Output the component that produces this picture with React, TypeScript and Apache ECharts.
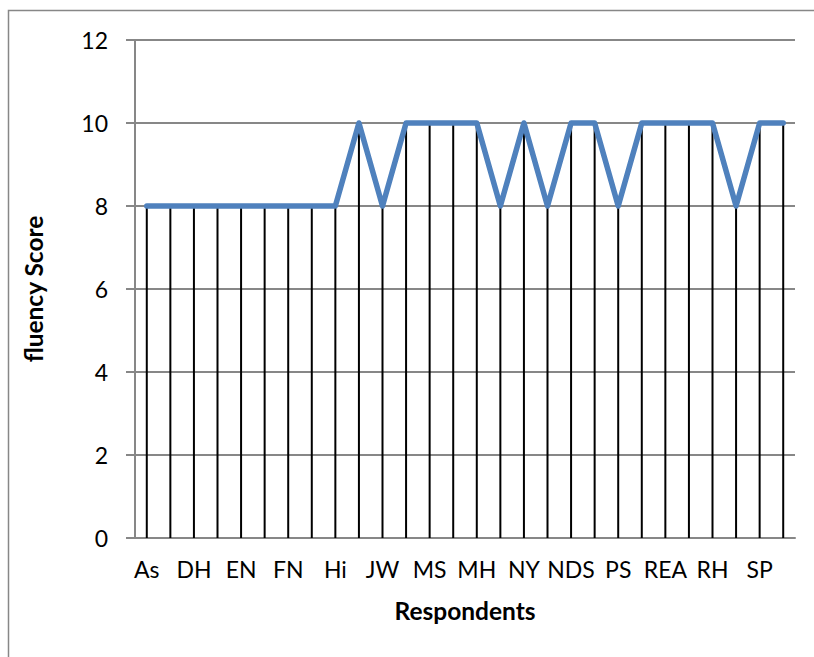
import React, { useEffect, useRef } from 'react';
import * as echarts from 'echarts';

// Respondent initials; the unlabeled slots sit between the printed ones.
const respondents = [
  'As', '', 'DH', '', 'EN', '', 'FN', '', 'Hi', '', 'JW', '', 'MS', '', 'MH', '',
  'NY', '', 'NDS', '', 'PS', '', 'REA', '', 'RH', '', 'SP', '',
];

// Fluency score for each respondent.
const fluencyScores = [
  8, 8, 8, 8, 8, 8, 8, 8, 8, 10, 8, 10, 10, 10, 10, 8,
  10, 8, 10, 10, 8, 10, 10, 10, 10, 8, 10, 10,
];

const yMin = 0;
const yMax = 12;
const yStep = 2;

const FONT = 'Lato, "Open Sans", sans-serif';
const GRAY = '#878787';

export default function App() {
  const ref = useRef<HTMLDivElement>(null);

  useEffect(() => {
    document.body.style.margin = '0';
    if (!ref.current) return;
    const chart = echarts.init(ref.current, undefined, { renderer: 'svg' });
    chart.setOption({
      animation: false,
      backgroundColor: '#ffffff',
      textStyle: { fontFamily: FONT },
      grid: { left: 135, right: 19, top: 40, bottom: 119, containLabel: false },
      graphic: [
        {
          type: 'rect',
          shape: { x: 8.5, y: 10.5, width: 900, height: 900 },
          style: { fill: 'none', stroke: GRAY, lineWidth: 1.5 },
          silent: true,
          z: -10,
        },
      ],
      xAxis: {
        type: 'category',
        data: respondents,
        boundaryGap: true,
        axisLine: { show: true, lineStyle: { color: GRAY, width: 2 } },
        axisTick: { show: false },
        splitLine: { show: false },
        axisLabel: {
          interval: 0,
          color: '#000',
          fontSize: 23,
          fontFamily: FONT,
          margin: 19,
        },
        name: 'Respondents',
        nameLocation: 'middle',
        nameGap: 60,
        nameTextStyle: { color: '#000', fontSize: 24.5, fontWeight: 'bold', fontFamily: FONT },
      },
      yAxis: {
        type: 'value',
        min: yMin,
        max: yMax,
        interval: yStep,
        axisLine: { show: true, lineStyle: { color: GRAY, width: 2 } },
        axisTick: { show: true, length: 9, lineStyle: { color: GRAY, width: 2 } },
        splitLine: { show: true, lineStyle: { color: GRAY, width: 2 } },
        axisLabel: {
          color: '#000',
          fontSize: 23,
          fontFamily: FONT,
          margin: 27,
        },
        name: 'fluency Score',
        nameLocation: 'middle',
        nameGap: 89,
        nameTextStyle: { color: '#000', fontSize: 24.5, fontWeight: 'bold', fontFamily: FONT },
      },
      series: [
        {
          // vertical drop lines from each point to the axis
          type: 'bar',
          data: fluencyScores,
          barWidth: 2,
          itemStyle: { color: '#000' },
          z: 2,
        },
        {
          type: 'line',
          data: fluencyScores,
          symbol: 'none',
          lineStyle: { color: '#4F81BD', width: 5.5, join: 'round', cap: 'round' },
          z: 3,
        },
      ],
    });
    return () => chart.dispose();
  }, []);

  return <div ref={ref} style={{ width: 814, height: 657 }} />;
}
